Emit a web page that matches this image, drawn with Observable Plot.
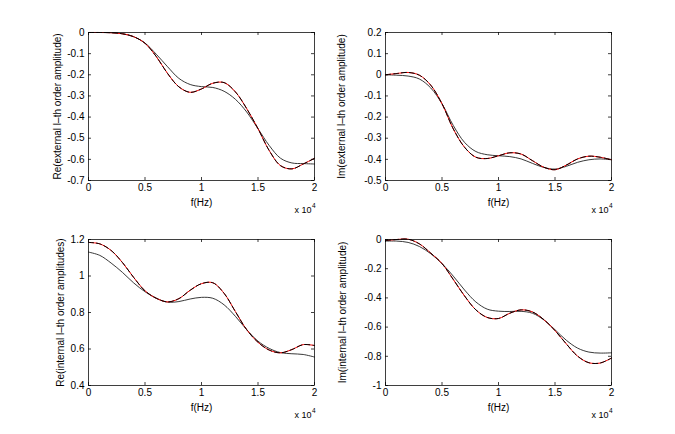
<!DOCTYPE html>
<html>
<head>
<meta charset="utf-8">
<script src="https://cdn.jsdelivr.net/npm/d3@7"></script>
<script src="https://cdn.jsdelivr.net/npm/@observablehq/plot@0.6"></script>
<style>
  body { margin: 0; background: #fff; }
  #wrap { position: relative; width: 675px; height: 434px; background: #fff; }
  svg.panel { position: absolute; overflow: visible; }
</style>
</head>
<body>
<div id="wrap"></div>
<script>
// frequency axis in units of 10^4 Hz
const freq = [0, 0.1, 0.2, 0.3, 0.4, 0.5, 0.6, 0.7, 0.8, 0.9, 1.0, 1.1, 1.2, 1.3, 1.4, 1.5, 1.6, 1.7, 1.8, 1.9, 2.0];

// Re(external) : exact (red / dashed) and approximation (solid black)
const reExtExact  = [0, 0, -0.001, -0.006, -0.02, -0.051, -0.114, -0.194, -0.257, -0.283, -0.267, -0.24, -0.237, -0.281, -0.36, -0.455, -0.559, -0.63, -0.645, -0.622, -0.595];
const reExtApprox = [0, 0, -0.001, -0.006, -0.02, -0.05, -0.103, -0.162, -0.217, -0.246, -0.256, -0.26, -0.278, -0.316, -0.376, -0.455, -0.535, -0.595, -0.617, -0.62, -0.622];

// Im(external)
const imExtExact  = [0, 0.006, 0.011, -0.002, -0.049, -0.137, -0.256, -0.343, -0.39, -0.396, -0.383, -0.369, -0.375, -0.406, -0.437, -0.449, -0.427, -0.398, -0.385, -0.39, -0.402];
const imExtApprox = [0, -0.002, -0.006, -0.02, -0.062, -0.137, -0.24, -0.32, -0.363, -0.378, -0.383, -0.387, -0.398, -0.419, -0.438, -0.446, -0.433, -0.414, -0.402, -0.398, -0.402];

// Re(internal)
const reIntExact  = [1.184, 1.176, 1.14, 1.074, 0.992, 0.919, 0.878, 0.858, 0.876, 0.922, 0.958, 0.963, 0.905, 0.805, 0.706, 0.637, 0.594, 0.579, 0.597, 0.624, 0.619];
const reIntApprox = [1.131, 1.113, 1.071, 1.02, 0.962, 0.914, 0.878, 0.857, 0.86, 0.874, 0.883, 0.878, 0.842, 0.779, 0.706, 0.643, 0.603, 0.58, 0.574, 0.57, 0.556];

// Im(internal)
const imIntExact  = [-0.007, 0, 0.002, -0.03, -0.093, -0.165, -0.274, -0.387, -0.482, -0.534, -0.541, -0.505, -0.482, -0.496, -0.548, -0.624, -0.715, -0.799, -0.844, -0.846, -0.812];
const imIntApprox = [-0.011, -0.011, -0.02, -0.048, -0.097, -0.165, -0.251, -0.346, -0.428, -0.477, -0.491, -0.493, -0.492, -0.505, -0.55, -0.618, -0.69, -0.744, -0.771, -0.778, -0.776];

// tick values
const xTicks = [0, 0.5, 1, 1.5, 2];
const yTicksReExt = [0, -0.1, -0.2, -0.3, -0.4, -0.5, -0.6, -0.7];
const yTicksImExt = [0.2, 0.1, 0, -0.1, -0.2, -0.3, -0.4, -0.5];
const yTicksReInt = [0.4, 0.6, 0.8, 1, 1.2];
const yTicksImInt = [0, -0.2, -0.4, -0.6, -0.8, -1];

// labels
const xLabel = "f(Hz)";
const yLabels = [
  "Re(external l\u2013th order amplitude)",
  "Im(external l\u2013th order amplitude)",
  "Re(internal l\u2013th order amplitudes)",
  "Im(internal l\u2013th order amplitude)"
];

// layout
const panels = [
  {exact: reExtExact, approx: reExtApprox, yTicks: yTicksReExt, yLabel: yLabels[0],
   left: 0, top: 0, width: 337, height: 217, mL: 88, mR: 23, mT: 32, mB: 37, labelDx: -31},
  {exact: imExtExact, approx: imExtApprox, yTicks: yTicksImExt, yLabel: yLabels[1],
   left: 337, top: 0, width: 338, height: 217, mL: 48, mR: 64, mT: 32, mB: 37, labelDx: -44},
  {exact: reIntExact, approx: reIntApprox, yTicks: yTicksReInt, yLabel: yLabels[2],
   left: 0, top: 217, width: 337, height: 217, mL: 88, mR: 23, mT: 22, mB: 49, labelDx: -28},
  {exact: imIntExact, approx: imIntApprox, yTicks: yTicksImInt, yLabel: yLabels[3],
   left: 337, top: 217, width: 338, height: 217, mL: 48, mR: 64, mT: 22, mB: 49, labelDx: -43}
];

const wrap = document.getElementById("wrap");
const fmt = d => String(d);

for (const p of panels) {
  const H = p.height - p.mT - p.mB;
  const W = p.width - p.mL - p.mR;
  const rows = freq.map((f, i) => ({f, e: p.exact[i], a: p.approx[i]}));
  const yDomain = d3.extent(p.yTicks);
  const chart = Plot.plot({
    width: p.width,
    height: p.height,
    marginLeft: p.mL, marginRight: p.mR, marginTop: p.mT, marginBottom: p.mB,
    x: {domain: [0, 2]},
    y: {domain: yDomain},
    style: {fontFamily: "'Liberation Sans', Arial, Helvetica, sans-serif", fontSize: "10px", background: "white", color: "black", overflow: "visible"},
    marks: [
      Plot.line(rows, {x: "f", y: "a", stroke: "#222", strokeWidth: 0.9, curve: "catmull-rom"}),
      Plot.line(rows, {x: "f", y: "e", stroke: "#ff0000", strokeWidth: 1, curve: "catmull-rom"}),
      Plot.line(rows, {x: "f", y: "e", stroke: "#000", strokeWidth: 1, strokeDasharray: "5,3", curve: "catmull-rom"}),
      Plot.frame({stroke: "#000", strokeWidth: 0.75}),
      Plot.tickX(xTicks, {x: d => d, insetTop: H - 3, stroke: "#000", strokeWidth: 0.75}),
      Plot.tickX(xTicks, {x: d => d, insetBottom: H - 3, stroke: "#000", strokeWidth: 0.75}),
      Plot.tickY(p.yTicks, {y: d => d, insetRight: W - 3, stroke: "#000", strokeWidth: 0.75}),
      Plot.tickY(p.yTicks, {y: d => d, insetLeft: W - 3, stroke: "#000", strokeWidth: 0.75}),
      Plot.axisX(xTicks, {tickSize: 0, tickPadding: 3, tickFormat: fmt, label: null}),
      Plot.axisY(p.yTicks, {tickSize: 0, tickPadding: 4, tickFormat: fmt, label: null}),
      Plot.text([xLabel], {text: d => d, frameAnchor: "bottom", dy: 22, textAnchor: "middle", lineAnchor: "middle"}),
      Plot.text([p.yLabel], {text: d => d, frameAnchor: "left", dx: p.labelDx, rotate: -90, textAnchor: "middle", lineAnchor: "middle"}),
      Plot.text(["x 10"], {text: d => d, frameAnchor: "bottom-right", dx: -3, dy: 32, textAnchor: "end", lineAnchor: "bottom", fontSize: 9}),
      Plot.text(["4"], {text: d => d, frameAnchor: "bottom-right", dx: -2.5, dy: 27, textAnchor: "start", lineAnchor: "bottom", fontSize: 6.5})
    ]
  });
  chart.classList.add("panel");
  chart.style.left = p.left + "px";
  chart.style.top = p.top + "px";
  wrap.appendChild(chart);
}
</script>
</body>
</html>
